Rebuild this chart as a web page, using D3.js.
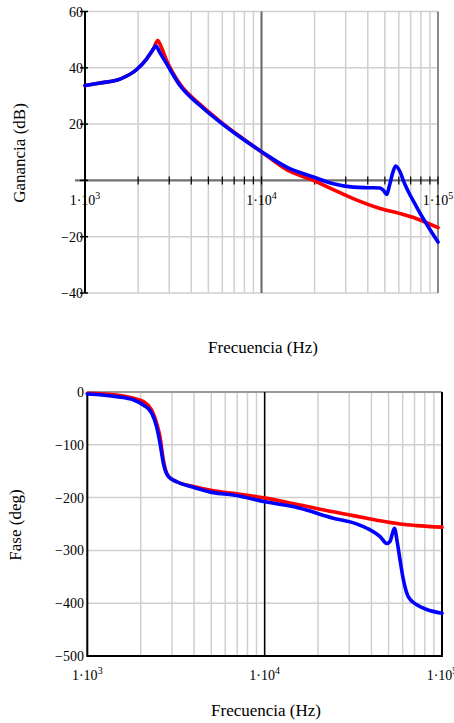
<!DOCTYPE html>
<html>
<head>
<meta charset="utf-8">
<script src="https://cdn.jsdelivr.net/npm/d3@7"></script>
<style>
  body { margin: 0; background: #fff; }
  svg { display: block; }
  svg text { font-family: "Liberation Serif", "DejaVu Serif", serif; }
</style>
</head>
<body>
<svg id="bode" width="454" height="723" font-family="Liberation Serif, DejaVu Serif, serif"></svg>
<script>
// --- datos ---
let gainRedF  = [1000, 1216, 1578, 1963, 2237, 2450, 2582, 2700, 2903, 3452, 4484, 5820, 7554, 10070, 13890, 19670, 25520, 33120, 46920, 60950, 75700, 100000];
let gainRedDb = [33.7, 34.6, 36, 39.4, 43.2, 47, 49.7, 47.5, 42.5, 34.2, 27, 21, 15.6, 10, 3.8, 0, -3.3, -6.5, -10, -11.8, -13.6, -16.8];

let gainBlueF  = [1000, 1216, 1578, 1963, 2237, 2400, 2525, 2650, 2903, 3452, 4484, 5820, 7554, 10070, 13890, 19670, 25520, 33120, 40000, 46920, 49000, 51200, 53000, 55600, 57540, 61000, 63560, 75700, 100000];
let gainBlueDb = [33.7, 34.6, 36, 39.4, 43.2, 46, 47.7, 45.5, 41.4, 33.7, 26.6, 20.7, 15.4, 10.1, 4.7, 1.2, -1.2, -2.4, -2.6, -2.7, -3.5, -5, -2, 3, 5.1, 3, 0, -9.5, -21.9];

let phaseRedF   = [1000, 1465, 1820, 2070, 2307, 2460, 2570, 2685, 2865, 3192, 3963, 5140, 6655, 10090, 15850, 24400, 30340, 37670, 44770, 58000, 72100, 100000];
let phaseRedDeg = [-2.5, -5.7, -12, -18, -34, -59, -85, -129, -160, -170, -179, -187, -192, -201, -214, -227, -233, -239, -244, -250, -253, -256];

let phaseBlueF   = [1000, 1465, 1820, 2070, 2307, 2460, 2570, 2685, 2865, 3192, 3963, 5140, 6655, 10090, 15850, 24400, 30340, 37670, 44770, 48850, 50950, 53900, 56100, 58000, 60600, 64600, 72100, 82000, 100000];
let phaseBlueDeg = [-3.8, -8.8, -15, -24.6, -40, -66, -97, -135, -160, -170, -180.5, -190.6, -195, -208, -220, -239, -246, -258, -274, -287, -283, -258, -287, -318, -356, -388, -403, -412, -419];

let freqDomain = [1e3, 1e5];
let decadeTicks = [1e3, 1e4, 1e5];
let decadeExp = ["3", "4", "5"];
let gainTicks = [60, 40, 20, 0, -20, -40];
let phaseTicks = [0, -100, -200, -300, -400, -500];

let serif = "Liberation Serif, DejaVu Serif, serif";
let svg = d3.select("#bode");

function fmtNum(v) {
    return v < 0 ? "\u2212" + Math.abs(v) : "" + v;
}

function decadeLabel(sel, x, y, exp) {
    let t = sel.append("text")
        .attr("x", x).attr("y", y)
        .attr("text-anchor", "middle")
        .attr("font-family", serif)
        .attr("font-size", 14);
    t.append("tspan").text("1\u00b710");
    t.append("tspan").attr("dy", -6).attr("font-size", 10).text(exp);
}

function curve(g, x, y, fs, vs, color) {
    let pts = fs.map(function (f, i) { return [x(f), y(vs[i])]; });
    g.append("path")
        .attr("d", d3.line().curve(d3.curveMonotoneX)(pts))
        .attr("fill", "none")
        .attr("stroke", color)
        .attr("stroke-width", 3.6)
        .attr("stroke-linejoin", "round")
        .attr("stroke-linecap", "round");
}

/* ---------- Ganancia ---------- */
let xT = d3.scaleLog().domain(freqDomain).range([85, 438]);
let yT = d3.scaleLinear().domain([-40, 60]).range([293, 11.5]);
let gT = svg.append("g");

// rejilla vertical
gT.selectAll(".vg").data(xT.ticks()).enter().append("line")
    .attr("x1", function (d) { return xT(d); }).attr("x2", function (d) { return xT(d); })
    .attr("y1", yT(60)).attr("y2", yT(-40))
    .attr("stroke", "#cfcfcf").attr("stroke-width", 1.5);
// rejilla horizontal
gT.selectAll(".hg").data(gainTicks.filter(function (d) { return d !== 0; })).enter().append("line")
    .attr("x1", xT(1e3)).attr("x2", xT(1e5))
    .attr("y1", function (d) { return yT(d); }).attr("y2", function (d) { return yT(d); })
    .attr("stroke", "#cfcfcf").attr("stroke-width", 1.5);
// linea 1e4 y borde derecho
gT.append("line").attr("x1", xT(1e4)).attr("x2", xT(1e4)).attr("y1", yT(60)).attr("y2", yT(-40))
    .attr("stroke", "#6a6a6a").attr("stroke-width", 2);
gT.append("line").attr("x1", xT(1e5)).attr("x2", xT(1e5)).attr("y1", yT(60)).attr("y2", yT(-40))
    .attr("stroke", "#8a8a8a").attr("stroke-width", 2);
// eje x en 0 dB
gT.append("line").attr("x1", xT(1e3) - 10).attr("x2", xT(1e5)).attr("y1", yT(0)).attr("y2", yT(0))
    .attr("stroke", "#707070").attr("stroke-width", 2.2);
gT.selectAll(".xt").data(xT.ticks()).enter().append("line")
    .attr("x1", function (d) { return xT(d); }).attr("x2", function (d) { return xT(d); })
    .attr("y1", yT(0) - 4).attr("y2", yT(0) + 4)
    .attr("stroke", "#000").attr("stroke-width", 1.2);
// eje y
gT.append("line").attr("x1", xT(1e3)).attr("x2", xT(1e3)).attr("y1", yT(60)).attr("y2", yT(-40))
    .attr("stroke", "#000").attr("stroke-width", 2);
gT.selectAll(".yt").data(gainTicks).enter().append("line")
    .attr("x1", xT(1e3) - 5).attr("x2", xT(1e3) + 3)
    .attr("y1", function (d) { return yT(d); }).attr("y2", function (d) { return yT(d); })
    .attr("stroke", "#000").attr("stroke-width", 1.5);
gT.selectAll(".yl").data(gainTicks.filter(function (d) { return d !== 0; })).enter().append("text")
    .attr("x", 83).attr("y", function (d) { return yT(d) + 5; })
    .attr("text-anchor", "end").attr("font-family", serif).attr("font-size", 14)
    .text(fmtNum);

curve(gT, xT, yT, gainRedF, gainRedDb, "#ff0000");
curve(gT, xT, yT, gainBlueF, gainBlueDb, "#0000ff");

decadeTicks.forEach(function (d, i) { decadeLabel(gT, xT(d), 205, decadeExp[i]); });

gT.append("text").attr("x", 263).attr("y", 353).attr("text-anchor", "middle")
    .attr("font-family", serif).attr("font-size", 17).text("Frecuencia (Hz)");
gT.append("text").attr("transform", "translate(25,153) rotate(-90)").attr("text-anchor", "middle")
    .attr("font-family", serif).attr("font-size", 17).text("Ganancia (dB)");

/* ---------- Fase ---------- */
let xB = d3.scaleLog().domain(freqDomain).range([87.3, 442]);
let yB = d3.scaleLinear().domain([-500, 0]).range([656, 392]);
let gB = svg.append("g");

gB.selectAll(".vg").data(xB.ticks()).enter().append("line")
    .attr("x1", function (d) { return xB(d); }).attr("x2", function (d) { return xB(d); })
    .attr("y1", yB(0)).attr("y2", yB(-500))
    .attr("stroke", "#cfcfcf").attr("stroke-width", 1.5);
gB.selectAll(".hg").data(phaseTicks.slice(1, -1)).enter().append("line")
    .attr("x1", xB(1e3)).attr("x2", xB(1e5))
    .attr("y1", function (d) { return yB(d); }).attr("y2", function (d) { return yB(d); })
    .attr("stroke", "#cfcfcf").attr("stroke-width", 1.5);
gB.append("line").attr("x1", xB(1e3)).attr("x2", xB(1e5)).attr("y1", yB(0)).attr("y2", yB(0))
    .attr("stroke", "#9a9a9a").attr("stroke-width", 2);
gB.append("line").attr("x1", xB(1e4)).attr("x2", xB(1e4)).attr("y1", yB(0)).attr("y2", yB(-500))
    .attr("stroke", "#000").attr("stroke-width", 1.5);
gB.append("path")
    .attr("d", "M" + xB(1e3) + "," + yB(0) + "V" + yB(-500) + "H" + xB(1e5) + "V" + yB(0))
    .attr("fill", "none").attr("stroke", "#000").attr("stroke-width", 2);

gB.selectAll(".yl").data(phaseTicks).enter().append("text")
    .attr("x", 84).attr("y", function (d) { return yB(d) + 5; })
    .attr("text-anchor", "end").attr("font-family", serif).attr("font-size", 14)
    .text(fmtNum);

curve(gB, xB, yB, phaseRedF, phaseRedDeg, "#ff0000");
curve(gB, xB, yB, phaseBlueF, phaseBlueDeg, "#0000ff");

decadeTicks.forEach(function (d, i) { decadeLabel(gB, xB(d), 680, decadeExp[i]); });

gB.append("text").attr("x", 266).attr("y", 716).attr("text-anchor", "middle")
    .attr("font-family", serif).attr("font-size", 17).text("Frecuencia (Hz)");
gB.append("text").attr("transform", "translate(21,525) rotate(-90)").attr("text-anchor", "middle")
    .attr("font-family", serif).attr("font-size", 17).text("Fase (deg)");
</script>
</body>
</html>
